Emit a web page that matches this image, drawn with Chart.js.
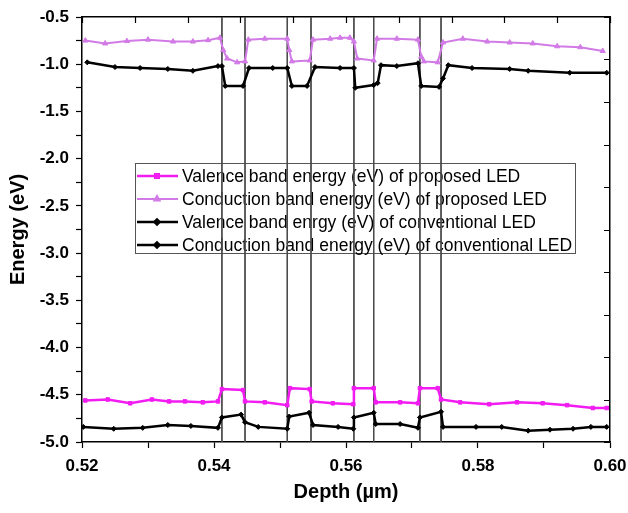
<!DOCTYPE html>
<html>
<head>
<meta charset="utf-8">
<script src="https://cdn.jsdelivr.net/npm/chart.js@4/dist/chart.umd.min.js"></script>
<style>
  body { margin: 0; background: #fff; }
  #wrap { width: 628px; height: 513px; }
</style>
</head>
<body>
<div id="wrap"><canvas id="bandChart" width="628" height="513"></canvas></div>
<script>
// Depth (um) and energy (eV)
const vbProposedDepth = [0.5205, 0.5239, 0.5273, 0.5306, 0.5332, 0.5356, 0.5383, 0.5406,
  0.5412, 0.5444, 0.5447, 0.5477, 0.5511, 0.5515, 0.5545, 0.5548, 0.5580, 0.5611,
  0.5612, 0.5642, 0.5645, 0.5682, 0.5709, 0.5712, 0.5739, 0.5744, 0.5773, 0.5817,
  0.5859, 0.5898, 0.5935, 0.5974, 0.5995];
const vbProposedEnergy = [-4.56, -4.55, -4.59, -4.55, -4.57, -4.57, -4.58, -4.57,
  -4.44, -4.45, -4.57, -4.58, -4.61, -4.43, -4.44, -4.57, -4.59, -4.60,
  -4.43, -4.43, -4.58, -4.58, -4.59, -4.43, -4.43, -4.55, -4.58, -4.60,
  -4.58, -4.59, -4.61, -4.64, -4.64];

const cbProposedDepth = [0.5205, 0.5235, 0.5268, 0.5300, 0.5338, 0.5368, 0.5391, 0.5409,
  0.5414, 0.5420, 0.5435, 0.5447, 0.5452, 0.5477, 0.5511, 0.5514, 0.5518, 0.5545,
  0.5550, 0.5576, 0.5591, 0.5606, 0.5612, 0.5617, 0.5642, 0.5647, 0.5677, 0.5709,
  0.5714, 0.5718, 0.5739, 0.5747, 0.5777, 0.5814, 0.5848, 0.5883, 0.5920, 0.5955, 0.5989];
const cbProposedEnergy = [-0.75, -0.78, -0.755, -0.74, -0.76, -0.76, -0.745, -0.72,
  -0.85, -0.94, -0.98, -0.97, -0.74, -0.73, -0.73, -0.85, -0.97, -0.96,
  -0.74, -0.73, -0.72, -0.72, -0.76, -0.94, -0.96, -0.73, -0.73, -0.74,
  -0.92, -0.97, -0.98, -0.77, -0.73, -0.76, -0.77, -0.78, -0.81, -0.82, -0.86];

const vbConventionalDepth = [0.5202, 0.5248, 0.5292, 0.5330, 0.5365, 0.5406,
  0.5412, 0.5441, 0.5447, 0.5467, 0.5511, 0.5514, 0.5544, 0.5550, 0.5588, 0.5611,
  0.5612, 0.5642, 0.5645, 0.5682, 0.5709, 0.5712, 0.5744, 0.5747, 0.5797, 0.5836,
  0.5876, 0.5909, 0.5944, 0.5971, 0.5995];
const vbConventionalEnergy = [-4.84, -4.86, -4.85, -4.82, -4.83, -4.85,
  -4.74, -4.71, -4.79, -4.84, -4.86, -4.73, -4.69, -4.82, -4.84, -4.86,
  -4.74, -4.69, -4.81, -4.81, -4.85, -4.74, -4.68, -4.84, -4.84, -4.84,
  -4.88, -4.87, -4.86, -4.84, -4.84];

const cbConventionalDepth = [0.5208, 0.5250, 0.5288, 0.5330, 0.5368, 0.5406,
  0.5412, 0.5417, 0.5444, 0.5453, 0.5489, 0.5511, 0.5518, 0.5541, 0.5553, 0.5591,
  0.5612, 0.5614, 0.5642, 0.5648, 0.5653, 0.5677, 0.5709, 0.5714, 0.5741, 0.5747,
  0.5755, 0.5791, 0.5848, 0.5876, 0.5939, 0.5995];
const cbConventionalEnergy = [-0.98, -1.03, -1.04, -1.05, -1.07, -1.02,
  -1.02, -1.23, -1.23, -1.04, -1.04, -1.04, -1.23, -1.23, -1.03, -1.04,
  -1.04, -1.25, -1.22, -1.20, -1.01, -1.02, -0.99, -1.23, -1.24, -1.15,
  -1.01, -1.04, -1.05, -1.07, -1.09, -1.09];

// quantum well boundaries (um)
const wellEdges = [0.5412, 0.5447, 0.5511, 0.5547, 0.5612, 0.5642, 0.5712, 0.5744];

const seriesLabels = [
  'Valence band energy (eV) of proposed LED',
  'Conduction band energy (eV) of proposed LED',
  'Valence band enrgy (eV) of conventional LED',
  'Conduction band energy (eV) of conventional LED',
];

const MAGENTA = '#f21cf2';
const VIOLET = '#d27ae6';
const BLACK = '#000000';

const pts = (xs, ys) => xs.map((x, i) => ({ x, y: ys[i] }));

function bandSet(label, xs, ys, color, style, radius, width) {
  return {
    label, data: pts(xs, ys), showLine: true, borderColor: color, backgroundColor: color,
    borderWidth: width, pointStyle: style, pointRadius: radius, pointBorderWidth: 1,
    xAxisID: 'x', yAxisID: 'y', order: 1,
  };
}

const datasets = [
  bandSet(seriesLabels[0], vbProposedDepth, vbProposedEnergy, MAGENTA, 'rect', 2.5, 2.5),
  bandSet(seriesLabels[1], cbProposedDepth, cbProposedEnergy, VIOLET, 'triangle', 3, 2),
  bandSet(seriesLabels[2], vbConventionalDepth, vbConventionalEnergy, BLACK, 'rectRot', 2.5, 2.5),
  bandSet(seriesLabels[3], cbConventionalDepth, cbConventionalEnergy, BLACK, 'rectRot', 2.5, 2.5),
];
wellEdges.forEach(d => datasets.push({
  label: 'edge', data: [{ x: d, y: -0.5 }, { x: d, y: -5.0 }], showLine: true,
  borderColor: '#4a4a4a', borderWidth: 1, pointRadius: 0, xAxisID: 'x', yAxisID: 'y', order: 2,
}));

// legend box in the middle of the plot, drawn under the boundary lines
const boxLegend = {
  id: 'boxLegend',
  beforeDatasetsDraw(chart) {
    const { ctx, chartArea: a } = chart;
    const left = a.left + 53, top = a.top + 146, w = 440, h = 90, row = 23;
    ctx.save();
    ctx.strokeStyle = '#555';
    ctx.lineWidth = 1;
    ctx.strokeRect(left + 0.5, top + 0.5, w, h);
    ctx.font = '17.5px "Liberation Sans", Arial, sans-serif';
    ctx.textBaseline = 'middle';
    datasets.slice(0, 4).forEach((ds, i) => {
      const y = top + 13 + i * row;
      ctx.strokeStyle = ds.borderColor;
      ctx.lineWidth = ds.borderWidth;
      ctx.beginPath();
      ctx.moveTo(left + 2, y);
      ctx.lineTo(left + 43, y);
      ctx.stroke();
      ctx.fillStyle = ds.backgroundColor;
      Chart.helpers.drawPoint(ctx, { pointStyle: ds.pointStyle, radius: ds.pointRadius, borderWidth: 1 }, left + 22, y);
      ctx.fillStyle = '#000';
      ctx.fillText(ds.label, left + 47, y + 1);
    });
    ctx.restore();
  },
};

// inward ticks on the top and right frame
const innerTicks = {
  id: 'innerTicks',
  afterDraw(chart) {
    const { ctx, chartArea: a, scales } = chart;
    ctx.save();
    ctx.strokeStyle = '#000';
    ctx.lineWidth = 1.2;
    ctx.beginPath();
    scales.x2.ticks.forEach(t => {
      const px = Math.round(scales.x2.getPixelForValue(t.value)) + 0.5;
      ctx.moveTo(px, a.top);
      ctx.lineTo(px, a.top + 6);
    });
    scales.y2.ticks.forEach(t => {
      const py = Math.round(scales.y2.getPixelForValue(t.value)) + 0.5;
      ctx.moveTo(a.right, py);
      ctx.lineTo(a.right - 6, py);
    });
    ctx.stroke();
    ctx.restore();
  },
};

const tickFont = { family: '"Liberation Sans", Arial, sans-serif', size: 17, weight: 'bold' };
const titleFont = { family: '"Liberation Sans", Arial, sans-serif', size: 20, weight: 'bold' };
const frame = { display: true, color: '#000', width: 1.5 };

new Chart(document.getElementById('bandChart'), {
  type: 'scatter',
  data: { datasets },
  plugins: [boxLegend, innerTicks],
  options: {
    responsive: false,
    animation: false,
    layout: { padding: 0 },
    plugins: { legend: { display: false }, tooltip: { enabled: false } },
    scales: {
      x: {
        type: 'linear', position: 'bottom', min: 0.52, max: 0.60,
        afterFit: s => { s.height = 71; s.paddingLeft = 0; s.paddingRight = 0; },
        border: frame,
        grid: { drawOnChartArea: false, drawTicks: true, tickLength: 6, color: '#000', tickWidth: 1.2 },
        ticks: {
          stepSize: 0.01, color: '#000', font: tickFont, padding: 8, maxRotation: 0, autoSkip: false,
          callback: v => (Math.round(v * 1000) % 20 === 0 ? v.toFixed(2) : ''),
        },
        title: { display: true, text: 'Depth (µm)', color: '#000', font: titleFont, padding: { top: 0, bottom: 9 } },
      },
      y: {
        type: 'linear', position: 'left', min: -5.0, max: -0.5,
        afterFit: s => { s.width = 82; s.paddingTop = 0; s.paddingBottom = 0; },
        border: frame,
        grid: { drawOnChartArea: false, drawTicks: true, tickLength: 6, color: '#000', tickWidth: 1.2 },
        ticks: {
          stepSize: 0.25, color: '#000', font: tickFont, padding: 7, autoSkip: false,
          callback: v => (Math.round(v * 100) % 50 === 0 ? v.toFixed(1) : ''),
        },
        title: { display: true, text: 'Energy (eV)', color: '#000', font: titleFont, padding: { top: 6, bottom: 0 } },
      },
      x2: {
        type: 'linear', position: 'top', min: 0, max: 10,
        afterFit: s => { s.height = 17; },
        border: frame,
        grid: { drawOnChartArea: false, drawTicks: false },
        ticks: { display: false, stepSize: 1 },
      },
      y2: {
        type: 'linear', position: 'right', min: 0, max: 10,
        afterFit: s => { s.width = 18; },
        border: frame,
        grid: { drawOnChartArea: false, drawTicks: false },
        ticks: { display: false, stepSize: 1 },
      },
    },
  },
});
</script>
</body>
</html>
